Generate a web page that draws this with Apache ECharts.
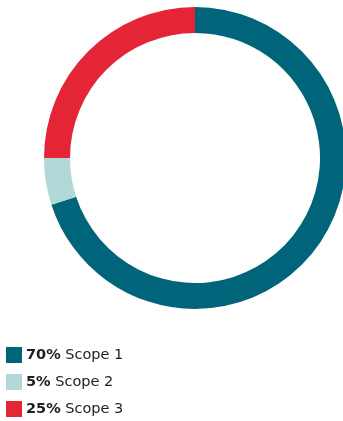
<!DOCTYPE html>
<html>
<head>
<meta charset="utf-8">
<script src="https://cdn.jsdelivr.net/npm/echarts@6/dist/echarts.min.js"></script>
<style>
  html, body { margin: 0; padding: 0; background: #fff; }
  #chart { width: 343px; height: 421px; }
</style>
</head>
<body>
<div id="chart"></div>
<script>
// Emission shares by scope
const scopeNames = ['Scope 1', 'Scope 2', 'Scope 3'];
const scopeShares = [70, 5, 25];
const scopeColors = ['#00657a', '#afd8d7', '#e32535'];

const chart = echarts.init(document.getElementById('chart'), null, { renderer: 'canvas' });

chart.setOption({
  animation: false,
  color: scopeColors,
  legend: {
    orient: 'vertical',
    left: 6,
    top: 347,
    padding: 0,
    icon: 'rect',
    itemWidth: 16,
    itemHeight: 16,
    itemGap: 11,
    selectedMode: false,
    data: scopeNames,
    formatter: function (name) {
      const i = scopeNames.indexOf(name);
      return '{b|' + scopeShares[i] + '%} ' + name;
    },
    textStyle: {
      fontFamily: 'DejaVu Sans',
      fontSize: 14.5,
      lineHeight: 16,
      color: '#1e1e1e',
      padding: [0, 0, 0, -1],
      rich: {
        b: { fontFamily: 'DejaVu Sans', fontWeight: 'bold', fontSize: 14.5, lineHeight: 16, color: '#1e1e1e' }
      }
    }
  },
  series: [{
    type: 'pie',
    center: [195, 158],
    radius: [125, 151],
    startAngle: 90,
    clockwise: true,
    label: { show: false },
    labelLine: { show: false },
    emphasis: { disabled: true },
    itemStyle: { borderWidth: 0 },
    data: scopeNames.map((n, i) => ({ name: n, value: scopeShares[i] }))
  }]
});
</script>
</body>
</html>
